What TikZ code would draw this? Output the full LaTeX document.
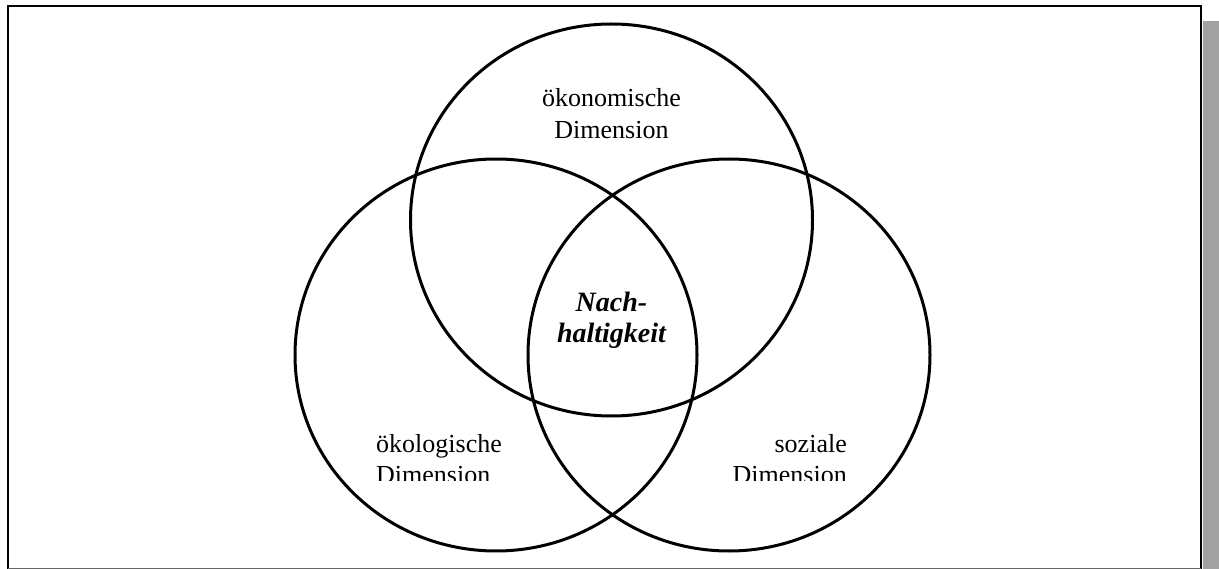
\documentclass[tikz,border=0pt]{standalone}
\usepackage{fontspec}
\setmainfont{Liberation Serif}
\usetikzlibrary{shapes.geometric}
\begin{document}
\begin{tikzpicture}[x=1pt,y=-1pt,
  ring/.style={draw=black, line width=3pt, ellipse, minimum width=402pt, minimum height=392pt, inner sep=0pt},
  lbl/.style={inner sep=0pt, font=\fontsize{26}{31.5}\selectfont},
  key/.style={inner sep=0pt, font=\fontsize{28}{31}\selectfont\bfseries\itshape}]
  \useasboundingbox (0,0) rectangle (1219,569);
  % page frame with drop shadow
  \fill[black!37] (1203,21) rectangle (1219,569);
  \draw[line width=2pt] (8,569) -- (8,6) -- (1201,6) -- (1201,569);
  \draw[black!60, line width=1pt] (8,568.5) -- (1201,568.5);
  % the three dimensions
  \node[ring] (oek) at (611.5,220) {};
  \node[ring] (eco) at (496,355) {};
  \node[ring] (soz) at (729,355) {};
  % labels
  \node[lbl, anchor=base] (oek1) at (611.5,106.7) {ökonomische};
  \node[lbl, anchor=base] (oek2) at (611.5,138.3) {Dimension};
  \node[key, anchor=base] (nh1) at (611.5,311.7) {Nach-};
  \node[key, anchor=base] (nh2) at (611.5,342.7) {haltigkeit};
  \begin{scope}
    \clip (0,0) rectangle (1219,480);
    \node[lbl, anchor=base west] (eco1) at (376,452) {ökologische};
    \node[lbl, anchor=base west] (eco2) at (376,483.5) {Dimension};
    \node[lbl, anchor=base east] (soz1) at (847,452) {soziale};
    \node[lbl, anchor=base east] (soz2) at (847,483.5) {Dimension};
  \end{scope}
\end{tikzpicture}
\end{document}
